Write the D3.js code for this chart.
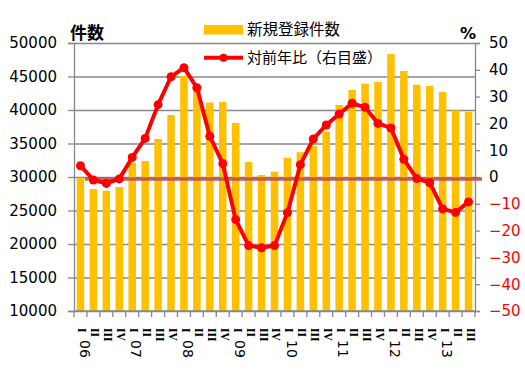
<!DOCTYPE html>
<html>
<head>
<meta charset="utf-8">
<script src="https://cdn.jsdelivr.net/npm/d3@7"></script>
<style>
  html, body { margin: 0; padding: 0; background: #fff; }
  .axis-num { font-family: "DejaVu Sans", Verdana, sans-serif; font-size: 15px; fill: #000; }
  .jp { font-family: "Noto Sans CJK JP", sans-serif; }
</style>
</head>
<body>
<div id="chart"></div>
<script>
// Data
const years = ["06", "07", "08", "09", "10", "11", "12", "13"];
const quarterLabels = ["I", "II", "III", "IV"];
const categories = [
  "06-I", "06-II", "06-III", "06-IV",
  "07-I", "07-II", "07-III", "07-IV",
  "08-I", "08-II", "08-III", "08-IV",
  "09-I", "09-II", "09-III", "09-IV",
  "10-I", "10-II", "10-III", "10-IV",
  "11-I", "11-II", "11-III", "11-IV",
  "12-I", "12-II", "12-III", "12-IV",
  "13-I", "13-II", "13-III"
];
// 新規登録件数
const registrations = [
  29900, 28200, 27950, 28500, 32130, 32390, 35670, 39250,
  45100, 43100, 41100, 41200, 38060, 32240, 30300, 30790,
  32860, 33700, 34630, 36720, 40750, 42990, 43930, 44180,
  48360, 45820, 43780, 43580, 42690, 39950, 39750
];
// 対前年比 (%)
const yoyChange = [
  4.2, -1.1, -2.4, -0.7, 7.3, 14.4, 27.0, 37.4,
  40.8, 33.3, 15.2, 5.0, -15.9, -25.6, -26.4, -25.6,
  -13.3, 4.6, 14.2, 19.4, 23.5, 27.5, 26.0, 20.0,
  18.3, 6.6, -0.6, -2.1, -11.9, -13.2, -9.3
];
const leftTicks = [10000, 15000, 20000, 25000, 30000, 35000, 40000, 45000, 50000];
const rightTicks = [-50, -40, -30, -20, -10, 0, 10, 20, 30, 40, 50];
const seriesNames = ["新規登録件数", "対前年比（右目盛）"];

const W = 525, H = 375;
const margin = { top: 43, right: 50, bottom: 64, left: 74 };
const plotW = W - margin.left - margin.right;
const plotH = H - margin.top - margin.bottom;

const svg = d3.select("#chart").append("svg")
  .attr("width", W)
  .attr("height", H);

// Scales
const x = d3.scaleBand().domain(categories).range([0, plotW]);
const yL = d3.scaleLinear().domain([10000, 50000]).range([plotH, 0]);
const yR = d3.scaleLinear().domain([-50, 50]).range([plotH, 0]);

const g = svg.append("g")
  .attr("transform", "translate(" + margin.left + "," + margin.top + ")");

// Grid lines
g.append("g")
  .call(d3.axisLeft(yL).tickValues(leftTicks).tickSize(-plotW).tickFormat(""))
  .call(s => s.select(".domain").remove())
  .selectAll("line")
  .attr("stroke", "#888")
  .attr("stroke-width", 1.3);

// Bars
const barW = x.bandwidth() * 0.58;
g.selectAll("rect.bar")
  .data(registrations)
  .enter()
  .append("rect")
  .attr("class", "bar")
  .attr("x", (d, i) => x(categories[i]) + (x.bandwidth() - barW) / 2)
  .attr("y", d => yL(d))
  .attr("width", barW)
  .attr("height", d => plotH - yL(d))
  .attr("fill", "#FFC000");

// Left axis
const gLeft = g.append("g")
  .call(d3.axisLeft(yL).tickValues(leftTicks).tickSize(6).tickPadding(11).tickFormat(d3.format("d")));
gLeft.select(".domain").attr("stroke", "#888").attr("stroke-width", 1.3);
gLeft.selectAll("line").attr("stroke", "#888").attr("stroke-width", 1.3);
gLeft.selectAll("text").attr("class", "axis-num");

// Right axis
const gRight = g.append("g")
  .attr("transform", "translate(" + plotW + ",0)")
  .call(d3.axisRight(yR).tickValues(rightTicks).tickSize(5).tickPadding(9));
gRight.select(".domain").attr("stroke", "#888").attr("stroke-width", 1.3);
gRight.selectAll("line").attr("stroke", "#888").attr("stroke-width", 1.3);
gRight.selectAll("text")
  .attr("class", "axis-num")
  .style("fill", d => d < 0 ? "#FF0000" : "#000");

// Bottom axis line and ticks at category boundaries
const boundaries = categories.map(c => x(c)).concat([plotW]);
g.append("line")
  .attr("x1", 0).attr("x2", plotW)
  .attr("y1", plotH).attr("y2", plotH)
  .attr("stroke", "#888").attr("stroke-width", 1.3);
g.selectAll("line.xtick")
  .data(boundaries)
  .enter()
  .append("line")
  .attr("class", "xtick")
  .attr("x1", d => d).attr("x2", d => d)
  .attr("y1", plotH).attr("y2", plotH + 6)
  .attr("stroke", "#888").attr("stroke-width", 1.3);

// Quarter labels (rotated)
g.selectAll("text.qlab")
  .data(categories)
  .enter()
  .append("text")
  .attr("class", "qlab")
  .attr("transform", d => "translate(" + (x(d) + x.bandwidth() / 2 + 2) + "," + (plotH + 17) + ") rotate(90)")
  .attr("dy", "0.35em")
  .style("font-family", "'Liberation Serif', 'DejaVu Serif', serif")
  .style("font-weight", "bold")
  .style("font-size", "11.5px")
  .text(d => d.split("-")[1]);

// Year labels (rotated)
g.selectAll("text.ylab")
  .data(years)
  .enter()
  .append("text")
  .attr("class", "ylab axis-num")
  .attr("transform", d => "translate(" + (x(d + "-I") + x.bandwidth() / 2 + 4) + "," + (plotH + 29) + ") rotate(90)")
  .attr("dy", "0.35em")
  .style("font-size", "14px")
  .text(d => d);

// Zero reference line (right scale)
g.append("line")
  .attr("x1", x(categories[0]) + 11)
  .attr("x2", plotW + 7)
  .attr("y1", yR(0) + 2)
  .attr("y2", yR(0) + 2)
  .attr("stroke", "#C0504D")
  .attr("stroke-opacity", 0.9)
  .attr("stroke-width", 3.5);

// Year-on-year line
const line = d3.line()
  .x((d, i) => x(categories[i]) + x.bandwidth() / 2)
  .y(d => yR(d));

g.append("path")
  .datum(yoyChange)
  .attr("d", line)
  .attr("fill", "none")
  .attr("stroke", "#FF0000")
  .attr("stroke-width", 4)
  .attr("stroke-linejoin", "round");

g.selectAll("circle.dot")
  .data(yoyChange)
  .enter()
  .append("circle")
  .attr("class", "dot")
  .attr("cx", (d, i) => x(categories[i]) + x.bandwidth() / 2)
  .attr("cy", d => yR(d))
  .attr("r", 4.5)
  .attr("fill", "#FF0000");

// Axis titles
svg.append("text")
  .attr("class", "jp")
  .attr("x", 70)
  .attr("y", 39)
  .style("font-size", "17px")
  .style("font-weight", "bold")
  .text("件数");

svg.append("text")
  .attr("x", 460)
  .attr("y", 38.5)
  .style("font-family", "'DejaVu Sans', sans-serif")
  .style("font-size", "16px")
  .style("font-weight", "bold")
  .text("%");

// Legend
const legend = svg.append("g").attr("transform", "translate(204,0)");
legend.append("rect")
  .attr("x", 0).attr("y", 25)
  .attr("width", 39).attr("height", 9.5)
  .attr("fill", "#FFC000");
legend.append("text")
  .attr("class", "jp")
  .attr("x", 43).attr("y", 35)
  .style("font-size", "15.5px")
  .text(seriesNames[0]);
legend.append("line")
  .attr("x1", 0).attr("x2", 39)
  .attr("y1", 57.7).attr("y2", 57.7)
  .attr("stroke", "#FF0000").attr("stroke-width", 4);
legend.append("circle")
  .attr("cx", 19.5).attr("cy", 57.7).attr("r", 4)
  .attr("fill", "#FF0000");
legend.append("text")
  .attr("class", "jp")
  .attr("x", 43).attr("y", 63)
  .style("font-size", "15px")
  .text(seriesNames[1]);
</script>
</body>
</html>
